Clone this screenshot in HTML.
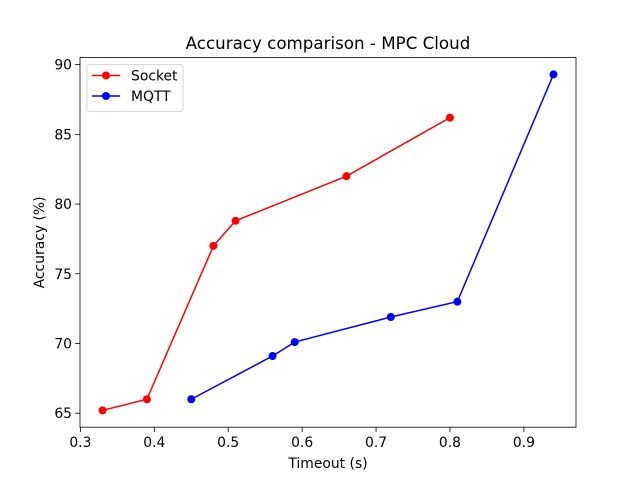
<!DOCTYPE html>
<html><head><meta charset="utf-8"><style>
body{margin:0;background:#fff;}
svg text{font-family:"DejaVu Sans","Liberation Sans",sans-serif;fill:#000;}
</style></head><body>
<svg id="chart" width="640" height="480" xmlns="http://www.w3.org/2000/svg">
<rect width="640" height="480" fill="#fff"/>
</svg>
<script>
const socketX=[0.33,0.39,0.48,0.51,0.66,0.80];
const socketY=[65.2,66.0,77.0,78.8,82.0,86.2];
const mqttX=[0.45,0.56,0.59,0.72,0.81,0.94];
const mqttY=[66.0,69.1,70.1,71.9,73.0,89.3];
const xTicks=[0.3,0.4,0.5,0.6,0.7,0.8,0.9];
const xTickLabels=["0.3","0.4","0.5","0.6","0.7","0.8","0.9"];
const yTicks=[65,70,75,80,85,90];
const yTickLabels=["65","70","75","80","85","90"];

const L=80,R=576,T=57.6,B=427.2;
const allX=socketX.concat(mqttX), allY=socketY.concat(mqttY);
let x0=Math.min(...allX),x1=Math.max(...allX),y0=Math.min(...allY),y1=Math.max(...allY);
const mx=(x1-x0)*0.05,my=(y1-y0)*0.05;x0-=mx;x1+=mx;y0-=my;y1+=my;
const sx=v=>L+(v-x0)/(x1-x0)*(R-L);
const sy=v=>B-(v-y0)/(y1-y0)*(B-T);
const svg=document.getElementById('chart');
const NS="http://www.w3.org/2000/svg";
function mk(tag,attrs,parent){const e=document.createElementNS(NS,tag);for(const k in attrs)e.setAttribute(k,attrs[k]);(parent||svg).appendChild(e);return e;}

xTicks.forEach((t,i)=>{
  const g=mk('g',{});
  
  
  mk('line',{x1:sx(t),x2:sx(t),y1:B,y2:B+4.9,stroke:'#000','stroke-width':0.8},g);
  const tx=mk('text',{x:sx(t),y:B+20,'text-anchor':'middle','font-size':13.9},g);tx.textContent=xTickLabels[i];
});
yTicks.forEach((t,i)=>{
  const g=mk('g',{});
  
  
  mk('line',{x1:L-4.9,x2:L,y1:sy(t),y2:sy(t),stroke:'#000','stroke-width':0.8},g);
  const tx=mk('text',{x:L-8,y:sy(t)+5,'text-anchor':'end','font-size':13.9},g);tx.textContent=yTickLabels[i];
});

function series(xs,ys,color,name){
  const g=mk('g',{});
  
  
  mk('polyline',{points:xs.map((x,i)=>sx(x)+','+sy(ys[i])).join(' '),fill:'none',stroke:color,'stroke-width':1.5},g);
  xs.forEach((x,i)=>{
    const c=mk('circle',{cx:sx(x),cy:sy(ys[i]),r:4,fill:color},g);
    
    
  });
}
series(socketX,socketY,'#ff0000','socket');
series(mqttX,mqttY,'#0000ff','mqtt');

const frame=mk('rect',{x:L,y:T,width:R-L,height:B-T,fill:'none',stroke:'#000','stroke-width':0.8});



const title=mk('text',{x:(L+R)/2,y:49,'text-anchor':'middle','font-size':16.7});title.textContent='Accuracy comparison - MPC Cloud';


const xl=mk('text',{x:(L+R)/2,y:468,'text-anchor':'middle','font-size':13.9});xl.textContent='Timeout (s)';


const yl=mk('text',{x:0,y:0,'text-anchor':'middle','font-size':13.9,transform:`translate(44,${(T+B)/2}) rotate(-90)`});yl.textContent='Accuracy (%)';



const lg=mk('g',{});


mk('rect',{x:87,y:64.5,width:96,height:47,rx:2,fill:'#fff',stroke:'#ccc','stroke-width':0.8},lg);
[['Socket','#ff0000',75.5],['MQTT','#0000ff',96]].forEach(([n,c,y])=>{
  const e=mk('g',{},lg);
  
  
  mk('line',{x1:92,x2:120,y1:y,y2:y,stroke:c,'stroke-width':1.5},e);
  mk('circle',{cx:106,cy:y,r:4,fill:c},e);
  const t=mk('text',{x:131,y:y+5,'font-size':13.9},e);t.textContent=n;
});
</script>
</body></html>
